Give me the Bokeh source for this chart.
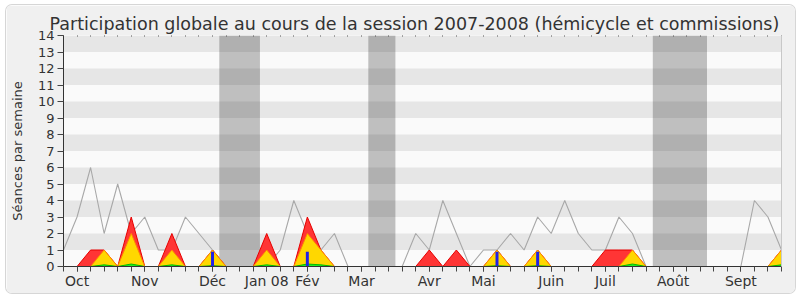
from bokeh.plotting import figure
from bokeh.models import Range1d, FixedTicker, LinearAxis
from bokeh.embed import file_html
from bokeh.resources import INLINE

# ---- data (one value per week of the 2007-2008 session) ----
weeks = list(range(54))

median_deputes = [1, 3, 6, 2, 5, 2, 3, 1, 1, 3, 2, 1, 0, 0, 0, 0, 1, 4, 2, 1,
                  2, 0, 0, 0, 0, 0, 2, 1, 4, 2, 0, 1, 1, 2, 1, 3, 2, 4, 2, 1,
                  1, 3, 2, 0, 0, 0, 0, 0, 0, 0, 0, 4, 3, 1]

presences = [0, 0, 1, 1, 0, 3, 0, 0, 2, 0, 0, 1, 0, 0, 0, 2, 0, 0, 3, 1,
             0, 0, 0, 0, 0, 0, 0, 1, 0, 1, 0, 0, 1, 0, 0, 1, 0, 0, 0, 0,
             1, 1, 1, 0, 0, 0, 0, 0, 0, 0, 0, 0, 0, 1]

participations = [0, 0, 0, 1, 0, 2, 0, 0, 1, 0, 0, 1, 0, 0, 0, 1, 0, 0, 2, 1,
                  0, 0, 0, 0, 0, 0, 0, 0, 0, 0, 0, 0, 1, 0, 0, 1, 0, 0, 0, 0,
                  0, 0, 1, 0, 0, 0, 0, 0, 0, 0, 0, 0, 0, 1]

interventions = [0, 0, 0, 0.1, 0, 0.15, 0, 0, 0.1, 0, 0, 0.05, 0, 0, 0, 0.1, 0, 0, 0.15, 0.1,
                 0, 0, 0, 0, 0, 0, 0, 0, 0, 0, 0, 0, 0.05, 0, 0, 0.05, 0, 0, 0, 0,
                 0, 0, 0.15, 0, 0, 0, 0, 0, 0, 0, 0, 0, 0, 0.1]

questions = [0, 0, 0, 0, 0, 0, 0, 0, 0, 0, 0, 0.9, 0, 0, 0, 0, 0, 0, 0.9, 0,
             0, 0, 0, 0, 0, 0, 0, 0, 0, 0, 0, 0, 0.9, 0, 0, 0.9, 0, 0, 0, 0,
             0, 0, 0, 0, 0, 0, 0, 0, 0, 0, 0, 0, 0, 0]

vacances_debut = [12, 23, 44]
vacances_fin = [14, 24, 47]

month_labels = ["Oct", "Nov", "Déc", "Jan 08", "Fév", "Mar", "Avr", "Mai",
                "Juin", "Juil", "Août", "Sept"]
month_weeks = [1, 6, 11, 15, 18, 22, 27, 31, 36, 40, 45, 50]

y_ticks = list(range(15))

title = "Participation globale au cours de la session 2007-2008 (hémicycle et commissions)"
FONT = "DejaVu Sans"
TXT = "#333333"

p = figure(frame_width=718, frame_height=231,
           x_range=Range1d(weeks[0], weeks[-1]), y_range=Range1d(y_ticks[0], y_ticks[-1]),
           output_backend="svg", toolbar_location=None,
           min_border_left=56, min_border_right=14, min_border_top=30, min_border_bottom=27,
           background_fill_color="#fafafa", border_fill_color="#f0f0f0")
p.outline_line_color = None
p.xgrid.visible = False
p.ygrid.visible = False
p.margin = (5, 6, 7, 6)
p.styles = {"border-radius": "6px", "box-shadow": "0 0 0 1px #d6d6d6", "overflow": "hidden"}

# stripes
p.quad(left=weeks[0], right=weeks[-1], bottom=y_ticks[1:-1:2], top=y_ticks[2::2],
       fill_color="#e6e6e6", line_color=None)

# vacation bands
p.quad(left=[s - 0.5 for s in vacances_debut], right=[e + 0.5 for e in vacances_fin],
       bottom=y_ticks[0], top=y_ticks[-1], fill_color="black", fill_alpha=0.235, line_color=None)

# median line
p.line(weeks, median_deputes, line_color="#a8a8a8", line_width=1.1)

# areas
p.varea(x=weeks, y1=0, y2=presences, fill_color="#ff3535")
p.line(weeks, presences, line_color="#e60000", line_width=1)
p.varea(x=weeks, y1=0, y2=participations, fill_color="#ffd700")
p.line(weeks, participations, line_color="#ff8c00", line_width=1)
p.varea(x=weeks, y1=0, y2=interventions, fill_color="#22ee22")
p.line(weeks, interventions, line_color="#00bb00", line_width=1)

# questions bars
p.vbar(x=weeks, top=questions, width=0.22, fill_color="#2222e6", line_color=None)

# axes
p.yaxis.ticker = FixedTicker(ticks=y_ticks)
p.yaxis.minor_tick_line_color = None
p.yaxis.major_tick_in = 0
p.yaxis.major_tick_out = 6
p.yaxis.major_label_standoff = 3
p.yaxis.axis_label = "Séances par semaine"
p.yaxis.axis_label_standoff = 10
p.yaxis.axis_label_text_font = FONT
p.yaxis.axis_label_text_font_size = "13px"
p.yaxis.axis_label_text_font_style = "normal"
p.yaxis.axis_label_text_color = TXT

# month labels as major ticks, every week as minor tick
p.xaxis.ticker = FixedTicker(ticks=month_weeks, minor_ticks=weeks)
p.xaxis.major_label_overrides = {w: lab for w, lab in zip(month_weeks, month_labels)}
p.xaxis.major_tick_in = 0
p.xaxis.major_tick_out = 5
p.xaxis.minor_tick_in = 0
p.xaxis.minor_tick_out = 5
p.xaxis.minor_tick_line_color = "#444444"
p.xaxis.major_label_standoff = 1

for ax in (p.xaxis, p.yaxis):
    ax.axis_line_color = "#333333"
    ax.major_tick_line_color = "#444444"
    ax.major_label_text_font = FONT
    ax.major_label_text_color = TXT
p.yaxis.major_label_text_font_size = "13px"
p.xaxis.major_label_text_font_size = "14px"

# dotted week marks along the top edge (minor ticks only, no labels)
top_axis = LinearAxis(ticker=FixedTicker(ticks=[], minor_ticks=weeks), axis_line_color=None,
                      major_tick_line_color=None,
                      minor_tick_in=1, minor_tick_out=0, minor_tick_line_color="#555555",
                      major_label_standoff=0)
p.add_layout(top_axis, "above")
right_axis = LinearAxis(ticker=FixedTicker(ticks=[]), axis_line_color="#c8c8c8",
                        major_tick_line_color=None, minor_tick_line_color=None,
                        major_label_standoff=0)
p.add_layout(right_axis, "right")

p.title.text = title
p.title.text_font = FONT
p.title.text_font_size = "17.5px"
p.title.text_font_style = "normal"
p.title.text_color = TXT
p.title.align = "left"
p.title.offset = -14
p.title.standoff = 4

open("out.html", "w").write(file_html(p, INLINE))
